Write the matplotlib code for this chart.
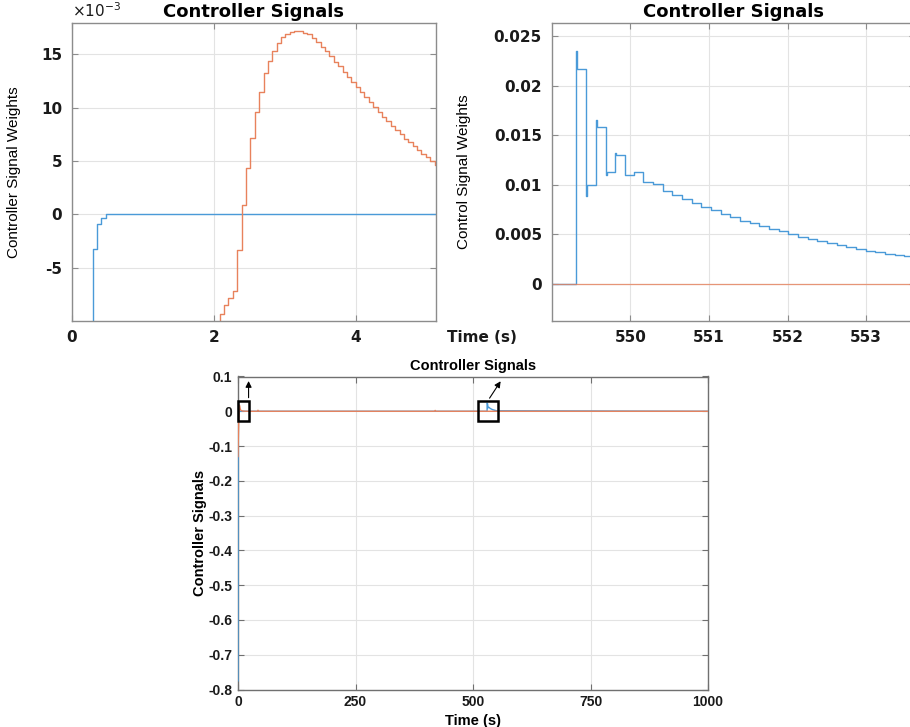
import numpy as np
import matplotlib
matplotlib.use("Agg")
import matplotlib.pyplot as plt
from matplotlib.patches import Rectangle

plt.rcParams['axes.unicode_minus'] = False

# ---------------- data ----------------
# Top-left: start-up transient (values in units of 1e-3)
blue_start_t = [0.0, 0.295, 0.355, 0.417, 0.487, 5.2]
blue_start_v = [-775.0, -3.2, -0.85, -0.35, 0.0, 0.0]

orange_start_t0 = 2.02          # first step time (s)
fast_period = 0.0617            # controller sample period (s)
orange_start_v = [-10.6, -9.3, -8.5, -7.8, -7.2, -3.3, 0.84, 4.3, 7.15, 9.6,
                  11.5, 13.2, 14.4, 15.3, 16.05, 16.6, 16.9, 17.1, 17.2, 17.15,
                  17.0, 16.85, 16.55, 16.15, 15.7, 15.25, 14.8, 14.3, 13.85, 13.35,
                  12.9, 12.4, 11.95, 11.45, 11.0, 10.5, 10.05, 9.6, 9.15, 8.75,
                  8.3, 7.9, 7.5, 7.1, 6.75, 6.4, 6.05, 5.7, 5.35, 5.0, 4.65]

# Top-right: disturbance response around t = 550 s
burst_t = [549.00, 549.31, 549.322, 549.44, 549.452, 549.56, 549.572,
           549.685, 549.697, 549.805, 549.817, 549.93, 550.05]
burst_v = [0.0, 0.0235, 0.0217, 0.0089, 0.0100, 0.0165, 0.0158,
           0.0110, 0.0113, 0.0132, 0.0130, 0.0110, 0.0113]
decay_t0 = 550.165
slow_period = 0.123
decay_v = [0.0103, 0.0101, 0.0094, 0.0090, 0.0086, 0.0082, 0.0078, 0.00745,
           0.0071, 0.00675, 0.0064, 0.0061, 0.0058, 0.00555, 0.0053, 0.0050,
           0.00476, 0.00453, 0.0043, 0.0041, 0.0039, 0.0037, 0.00352, 0.00336,
           0.0032, 0.00305, 0.0029, 0.0028]
orange_burst_t = [549.0, 553.7]
orange_burst_v = [0.0, 0.0]

# Bottom: whole run 0 - 1000 s
overview_blue_t = [0.0, 0.3, 0.5, 530.0, 530.01, 531.0, 532.0, 534.0, 537.0, 542.0, 550.0, 1000.0]
overview_blue_v = [-0.775, -0.0032, 0.0, 0.0, 0.0235, 0.0217, 0.010, 0.0113, 0.0078, 0.0045, 0.0015, 0.0]
overview_orange_t = [0.0, 0.5, 1.0, 1.5, 2.0, 2.3, 2.5, 3.1, 4.0, 5.1, 7.0, 10.0, 15.0, 25.0,
                     41.0, 42.5, 44.0, 418.0, 419.5, 421.0, 1000.0]
overview_orange_v = [-0.13, -0.09, -0.06, -0.035, -0.011, -0.005, 0.007, 0.0172, 0.012, 0.0046,
                     0.002, 0.0007, 0.0002, 0.0, 0.0, 0.003, 0.0, 0.0, 0.0025, 0.0, 0.0]

top_x_ticks = [0, 2, 4]
top_y_ticks = [-5e-3, 0, 5e-3, 10e-3, 15e-3]
top_y_labels = ['-5', '0', '5', '10', '15']
right_x_ticks = [550, 551, 552, 553]
right_y_ticks = [0, 0.005, 0.01, 0.015, 0.02, 0.025]
right_y_labels = ['0', '0.005', '0.01', '0.015', '0.02', '0.025']
bottom_x_ticks = [0, 250, 500, 750, 1000]
bottom_y_ticks = [0.1, 0, -0.1, -0.2, -0.3, -0.4, -0.5, -0.6, -0.7, -0.8]
bottom_y_labels = ['0.1', '0', '-0.1', '-0.2', '-0.3', '-0.4', '-0.5', '-0.6', '-0.7', '-0.8']

BLUE = '#4a9ad8'
ORANGE = '#e8825c'

W, H = 910, 727
fig = plt.figure(figsize=(W / 100, H / 100), dpi=100)


def px_axes(left, top, right, bottom):
    return fig.add_axes([left / W, 1 - bottom / H, (right - left) / W, (bottom - top) / H])


def style(ax, spine_col, fam, size, weight):
    for s in ax.spines.values():
        s.set_color(spine_col)
        s.set_linewidth(1.0)
    ax.tick_params(direction='in', top=True, right=True, length=4, width=0.8,
                   color=spine_col, labelsize=size, labelcolor='#1a1a1a')
    for lab in ax.get_xticklabels() + ax.get_yticklabels():
        lab.set_fontfamily(fam)
        lab.set_fontweight(weight)
    ax.grid(True, color='#e3e3e3', linewidth=0.8)
    ax.set_axisbelow(True)


# ---------- top-left ----------
ax1 = px_axes(71.7, 22.7, 435.7, 320.7)
bt = np.array(blue_start_t)
ax1.step(bt, np.array(blue_start_v) * 1e-3, where='post', color=BLUE, lw=1.0)
ot = orange_start_t0 + fast_period * np.arange(len(orange_start_v))
ot = np.append(ot, 5.2)
ov = np.append(orange_start_v, orange_start_v[-1]) * 1e-3
ax1.step(ot, ov, where='post', color=ORANGE, lw=1.0)
ax1.set_xlim(0, 5.12)
ax1.set_ylim(-9.94e-3, 17.94e-3)
ax1.set_xticks(top_x_ticks)
ax1.set_yticks(top_y_ticks)
ax1.set_yticklabels(top_y_labels)
ax1.tick_params(pad=7)
style(ax1, '#8c8c8c', 'DejaVu Sans', 11, 'bold')
ax1.text(0.0, 1.008, r'$\times10^{-3}$', transform=ax1.transAxes, fontsize=11,
         fontfamily='DejaVu Sans', ha='left', va='bottom', color='#1a1a1a')
ax1.set_title('Controller Signals', fontfamily='DejaVu Sans', fontweight='bold',
              fontsize=13, pad=4)
ax1.set_ylabel('Controller Signal Weights', fontfamily='Liberation Sans', fontsize=11)
ax1.yaxis.set_label_coords(-0.139, 0.5)

# ---------- top-right ----------
ax2 = px_axes(551.7, 22.7, 915.0, 320.7)
bt2 = np.array(burst_t)
dt2 = decay_t0 + slow_period * np.arange(len(decay_v))
all_t = np.concatenate([bt2, dt2, [553.7]])
all_v = np.concatenate([burst_v, decay_v, [decay_v[-1]]])
ax2.step(all_t, all_v, where='post', color=BLUE, lw=1.0)
ax2.plot(orange_burst_t, orange_burst_v, color=ORANGE, lw=0.9, alpha=0.8)
ax2.set_xlim(549.0, 553.62)
ax2.set_ylim(-0.0037, 0.02634)
ax2.set_xticks(right_x_ticks)
ax2.set_yticks(right_y_ticks)
ax2.set_yticklabels(right_y_labels)
ax2.tick_params(pad=7)
style(ax2, '#8c8c8c', 'DejaVu Sans', 11, 'bold')
ax2.spines['right'].set_visible(False)
ax2.set_title('Controller Signals', fontfamily='DejaVu Sans', fontweight='bold',
              fontsize=13, pad=4)
ax2.set_ylabel('Control Signal Weights', fontfamily='Liberation Sans', fontsize=11)
ax2.yaxis.set_label_coords(-0.221, 0.5)
fig.text(482 / W, 1 - 338 / H, 'Time (s)', fontfamily='DejaVu Sans', fontweight='bold',
         fontsize=11, ha='center', va='center', color='#1a1a1a')

# ---------- bottom ----------
ax3 = px_axes(238.0, 376.5, 708.0, 689.5)
ax3.plot(overview_blue_t, overview_blue_v, color=BLUE, lw=1.0, zorder=3)
ax3.plot(overview_orange_t, overview_orange_v, color=ORANGE, lw=1.0, zorder=3)
ax3.set_xlim(0, 1000)
ax3.set_ylim(-0.8, 0.1)
ax3.set_xticks(bottom_x_ticks)
ax3.set_yticks(bottom_y_ticks)
ax3.set_yticklabels(bottom_y_labels)
ax3.tick_params(pad=4)
style(ax3, '#707070', 'Liberation Sans', 10, 'bold')
ax3.set_title('Controller Signals', fontfamily='Liberation Sans', fontweight='bold',
              fontsize=10.5, pad=5)
ax3.set_xlabel('Time (s)', fontfamily='Liberation Sans', fontweight='bold', fontsize=10.5)
ax3.xaxis.set_label_coords(0.5, -0.078)
ax3.set_ylabel('Controller Signals', fontfamily='Liberation Sans', fontweight='bold', fontsize=10.5)
ax3.yaxis.set_label_coords(-0.066, 0.5)

# zoom boxes and arrows
ax3.add_patch(Rectangle((0.5, -0.027), 22, 0.057, fill=False, edgecolor='black', lw=1.8,
                        clip_on=False, zorder=5))
ax3.add_patch(Rectangle((511, -0.027), 42, 0.057, fill=False, edgecolor='black', lw=1.8,
                        zorder=5))
ax3.annotate('', xy=(22.5, 0.095), xytext=(22.5, 0.031),
             arrowprops=dict(arrowstyle='-|>', color='black', lw=0.8, mutation_scale=9))
ax3.annotate('', xy=(562, 0.093), xytext=(532, 0.031),
             arrowprops=dict(arrowstyle='-|>', color='black', lw=0.8, mutation_scale=9))

fig.savefig('out.png', dpi=100)
